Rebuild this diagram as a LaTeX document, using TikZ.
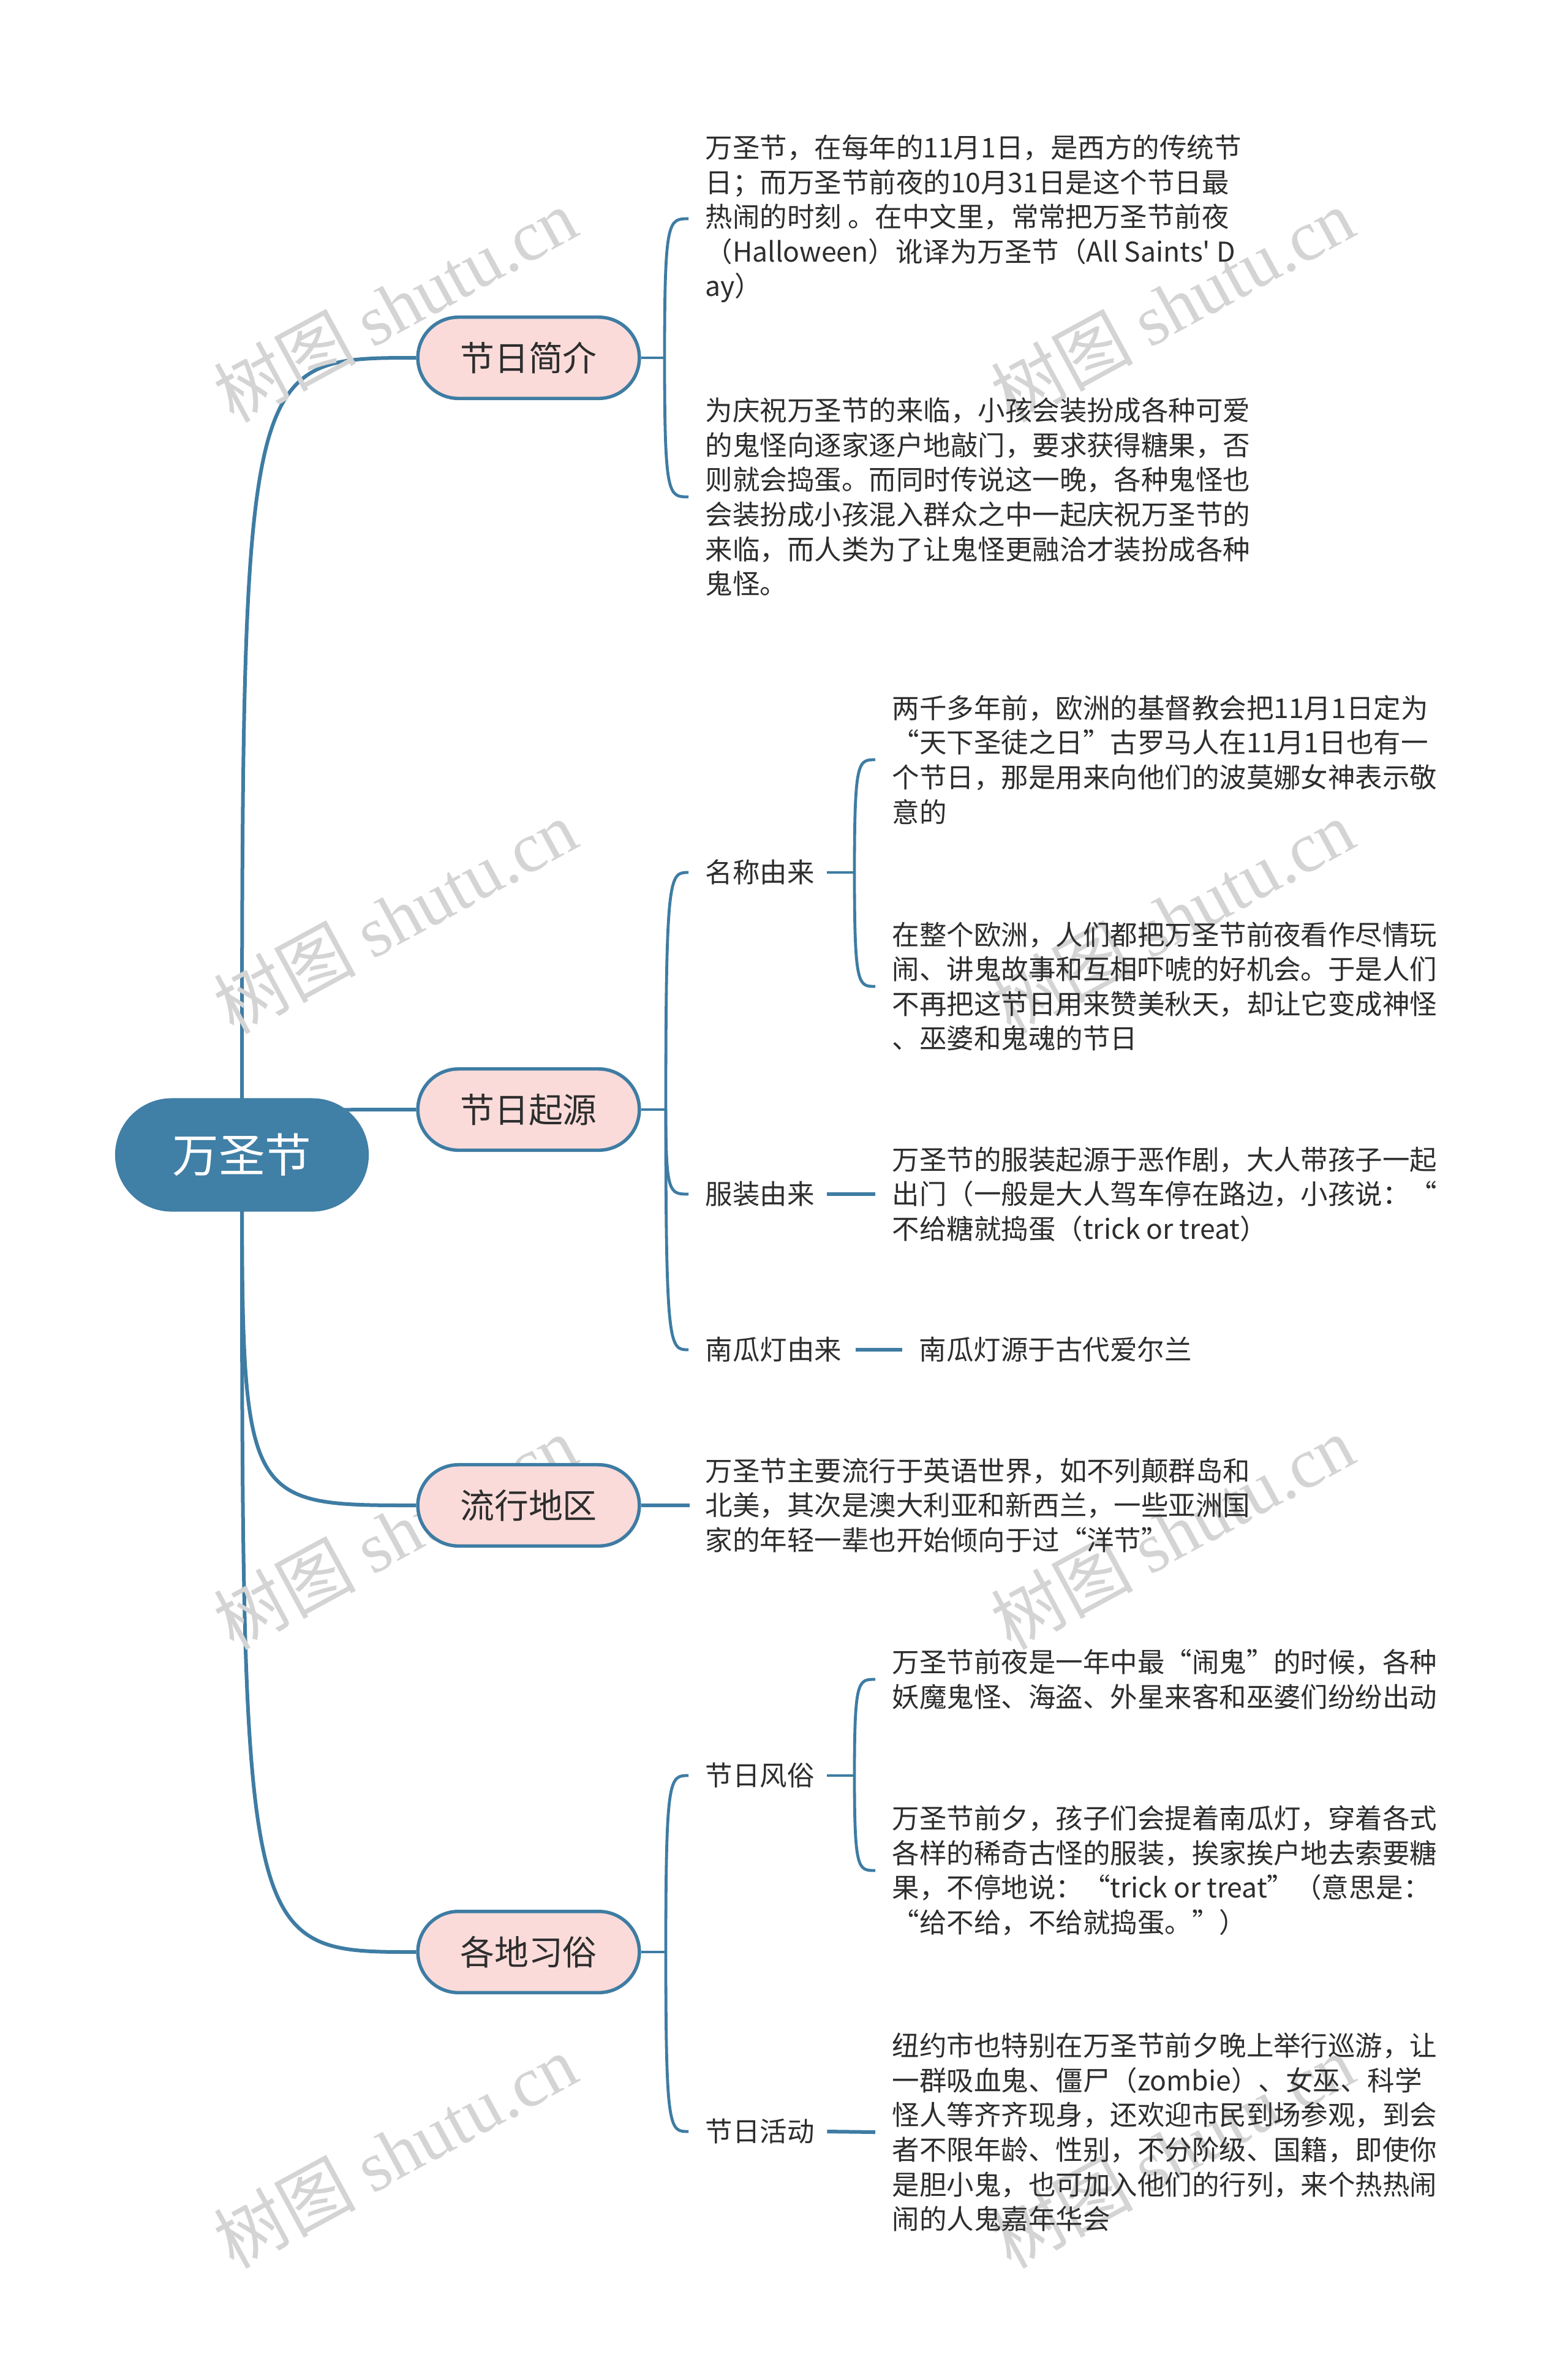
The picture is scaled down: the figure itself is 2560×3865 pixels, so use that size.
\documentclass[tikz,border=0pt]{standalone}
\usepackage{fontspec}
\setmainfont{Noto Sans CJK SC}
\newfontfamily\rawcjk{Noto Sans CJK SC}
\newfontfamily\wmfont{Liberation Serif}
\usetikzlibrary{shapes.misc,calc,backgrounds}
\definecolor{lineblue}{RGB}{62,124,163}
\definecolor{rootblue}{RGB}{64,127,166}
\definecolor{pinkfill}{RGB}{250,219,218}
\definecolor{txt}{RGB}{45,45,45}
\definecolor{wmgray}{RGB}{212,212,212}
\tikzset{
  rootnode/.style={rounded rectangle, fill=rootblue, minimum width=4.14cm, minimum height=1.85cm,
    text=white, inner sep=0pt, font=\fontsize{21.5pt}{26pt}\selectfont},
  topic/.style={rounded rectangle, draw=lineblue, line width=0.055cm, fill=pinkfill,
    minimum width=3.615cm, minimum height=1.325cm, text=txt, inner sep=0pt,
    font=\fontsize{15.9pt}{19pt}\selectfont},
  body/.style={anchor=west, align=left, inner sep=0pt, text=txt,
    font=\fontsize{12.65pt}{16.1pt}\selectfont},
  link/.style={draw=lineblue, line width=0.06cm},
  brk/.style={draw=lineblue, line width=0.048cm},
  wm/.style={text=wmgray, rotate=28.5, inner sep=0pt, font=\fontsize{33pt}{36pt}\selectfont}
}
\newcommand\brcurve[2]{\draw[brk] (#1) .. controls (#1 |- #2.west) and ($(#1 |- #2.west)+(6,0)$) .. ($(#2.west)+(-27,0)$);}
\begin{document}
\begin{tikzpicture}[x=0.01cm,y=-0.01cm]
\useasboundingbox (0,0) rectangle (2560,3865);

% main nodes
\node[rootnode] (root) at (395,1885) {万圣节};
\node[topic] (t1) at (863,584) {节日简介};
\node[topic] (t2) at (863,1811) {节日起源};
\node[topic] (t3) at (863,2457) {流行地区};
\node[topic] (t4) at (863,3186) {各地习俗};

% 节日简介
\node[body] (p11) at (1151,357) {万圣节，在每年的11月1日，是西方的传统节\\日；而万圣节前夜的10月31日是这个节日最\\热闹的时刻 。在中文里，常常把万圣节前夜\\（Halloween）讹译为万圣节（All Saints{\rawcjk '} D\\ay）};
\node[body] (p12) at (1151,811) {为庆祝万圣节的来临，小孩会装扮成各种可爱\\的鬼怪向逐家逐户地敲门，要求获得糖果，否\\则就会捣蛋。而同时传说这一晚，各种鬼怪也\\会装扮成小孩混入群众之中一起庆祝万圣节的\\来临，而人类为了让鬼怪更融洽才装扮成各种\\鬼怪。};
\coordinate (j1) at (1085,584);

% 节日起源
\coordinate (j2) at (1087,1811);
\node[body] (l21) at (1151,1424) {名称由来};
\node[body] (l22) at (1151,1949) {服装由来};
\node[body] (l23) at (1151,2203) {南瓜灯由来};
\coordinate (j21) at (1395,1424);
\node[body] (p211) at (1456,1240) {两千多年前，欧洲的基督教会把11月1日定为\\“天下圣徒之日”古罗马人在11月1日也有一\\个节日，那是用来向他们的波莫娜女神表示敬\\意的};
\node[body] (p212) at (1456,1610) {在整个欧洲，人们都把万圣节前夜看作尽情玩\\闹、讲鬼故事和互相吓唬的好机会。于是人们\\不再把这节日用来赞美秋天，却让它变成神怪\\、巫婆和鬼魂的节日};
\node[body] (p22) at (1456,1949) {万圣节的服装起源于恶作剧，大人带孩子一起\\出门（一般是大人驾车停在路边，小孩说：“\\不给糖就捣蛋（trick or treat）};
\node[body] (p23) at (1500,2203) {南瓜灯源于古代爱尔兰};

% 流行地区
\node[body] (p3) at (1151,2457) {万圣节主要流行于英语世界，如不列颠群岛和\\北美，其次是澳大利亚和新西兰，一些亚洲国\\家的年轻一辈也开始倾向于过“洋节”};

% 各地习俗
\coordinate (j4) at (1087,3186);
\node[body] (l41) at (1151,2898) {节日风俗};
\node[body] (l42) at (1151,3479) {节日活动};
\coordinate (j41) at (1395,2898);
\node[body] (p411) at (1456,2741) {万圣节前夜是一年中最“闹鬼”的时候，各种\\妖魔鬼怪、海盗、外星来客和巫婆们纷纷出动};
\node[body] (p412) at (1456,3053) {万圣节前夕，孩子们会提着南瓜灯，穿着各式\\各样的稀奇古怪的服装，挨家挨户地去索要糖\\果，不停地说：“trick or treat”（意思是：\\“给不给，不给就捣蛋。”）};
\node[body] (p42) at (1456,3480) {纽约市也特别在万圣节前夕晚上举行巡游，让\\一群吸血鬼、僵尸（zombie）、女巫、科学\\怪人等齐齐现身，还欢迎市民到场参观，到会\\者不限年龄、性别，不分阶级、国籍，即使你\\是胆小鬼，也可加入他们的行列，来个热热闹\\闹的人鬼嘉年华会};

\begin{scope}[on background layer]
  % root to topics
  \foreach \t in {t1,t2,t3,t4}
    \draw[link] (root.center) .. controls (root.center |- \t.west) and (root.center |- \t.west) .. (\t.west);
  % 节日简介
  \draw[brk] (t1.east) -- (j1);
  \brcurve{j1}{p11}
  \brcurve{j1}{p12}
  % 节日起源
  \draw[brk] (t2.east) -- (j2);
  \brcurve{j2}{l21}
  \brcurve{j2}{l22}
  \brcurve{j2}{l23}
  \draw[brk] ($(l21.east)+(20,0)$) -- (j21);
  \brcurve{j21}{p211}
  \brcurve{j21}{p212}
  \draw[link] ($(l22.east)+(20,0)$) -- ($(p22.west)+(-27,0)$);
  \draw[link] ($(l23.east)+(22,0)$) -- ($(p23.west)+(-27,0)$);
  % 流行地区
  \draw[link] (t3.east) -- ($(p3.west)+(-25,0)$);
  % 各地习俗
  \draw[brk] (t4.east) -- (j4);
  \brcurve{j4}{l41}
  \brcurve{j4}{l42}
  \draw[brk] ($(l41.east)+(20,0)$) -- (j41);
  \brcurve{j41}{p411}
  \brcurve{j41}{p412}
  \draw[link] ($(l42.east)+(20,0)$) -- ($(p42.west)+(-27,0)$);
  % watermarks
  \node[wm] (wm1) at (645,498) {树图 {\wmfont shutu.cn}};
  \node[wm] (wm2) at (1914,498) {树图 {\wmfont shutu.cn}};
  \node[wm] (wm3) at (645,1496) {树图 {\wmfont shutu.cn}};
  \node[wm] (wm4) at (1914,1496) {树图 {\wmfont shutu.cn}};
  \node[wm] (wm5) at (645,2501) {树图 {\wmfont shutu.cn}};
  \node[wm] (wm6) at (1914,2501) {树图 {\wmfont shutu.cn}};
  \node[wm] (wm7) at (645,3511) {树图 {\wmfont shutu.cn}};
  \node[wm] (wm8) at (1914,3511) {树图 {\wmfont shutu.cn}};
\end{scope}
\end{tikzpicture}
\end{document}
